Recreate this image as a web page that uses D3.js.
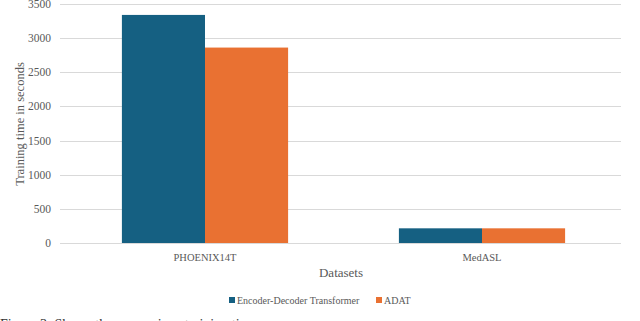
<!DOCTYPE html>
<html>
<head>
<meta charset="utf-8">
<script src="https://cdn.jsdelivr.net/npm/d3@7"></script>
<style>
  body { margin: 0; background: #fff; }
</style>
</head>
<body>
<svg id="chart" width="640" height="321"></svg>
<script>
var datasets = ["PHOENIX14T", "MedASL"];
var seriesNames = ["Encoder-Decoder Transformer", "ADAT"];
var encoderDecoder = [3340, 215];
var adat = [2862, 215];
var yTicks = [0, 500, 1000, 1500, 2000, 2500, 3000, 3500];
var colors = ["#156082", "#E97132"];
var textColor = "#595959";
var FONT = "'Liberation Serif'";

var svg = d3.select("#chart");
var X0 = 66.5, X1 = 620.5, Y0 = 243, Y1 = 4;
var GRID_X0 = 60, GRID_X1 = 621;

var xScale = d3.scaleBand().domain(datasets).range([X0, X1]).paddingInner(0.4).paddingOuter(0.2);
var xSub = d3.scaleBand().domain(seriesNames).range([0, xScale.bandwidth()]);
var yScale = d3.scaleLinear().domain([0, 3500]).range([Y0, Y1]);

function label(sel){
    return sel.attr("font-family", FONT).attr("fill", textColor);
}

// gridlines
svg.append("g").selectAll("line").data(yTicks.slice(1)).enter().append("line")
    .attr("x1", GRID_X0).attr("x2", GRID_X1)
    .attr("y1", function(d){return Math.round(yScale(d)) + 0.5}).attr("y2", function(d){return Math.round(yScale(d)) + 0.5})
    .attr("stroke", "#d9d9d9").attr("stroke-width", 1);

// y tick labels
svg.append("g").selectAll("text").data(yTicks).enter().append("text")
    .call(label)
    .attr("x", 51).attr("y", function(d){return yScale(d)})
    .attr("dy", "0.35em").attr("text-anchor", "end")
    .style("font-size", "11.5px")
    .text(function(d){return d});

// bars
var groups = svg.append("g").selectAll("g").data(datasets).enter().append("g")
    .attr("transform", function(d){return "translate(" + xScale(d) + ",0)"});
groups.selectAll("rect")
    .data(function(d, i){return [{s: seriesNames[0], v: encoderDecoder[i]}, {s: seriesNames[1], v: adat[i]}]})
    .enter().append("rect")
    .attr("x", function(d){return xSub(d.s)})
    .attr("width", xSub.bandwidth())
    .attr("y", function(d){return yScale(d.v)})
    .attr("height", function(d){return Y0 - yScale(d.v)})
    .attr("fill", function(d, i){return colors[i]});

// baseline
svg.append("line").attr("x1", GRID_X0).attr("x2", GRID_X1).attr("y1", Y0 + 0.5).attr("y2", Y0 + 0.5)
    .attr("stroke", "#d9d9d9").attr("stroke-width", 1);

// x tick labels
svg.append("g").selectAll("text").data(datasets).enter().append("text")
    .call(label)
    .attr("x", function(d){return xScale(d) + xScale.bandwidth()/2})
    .attr("y", 261).attr("text-anchor", "middle")
    .style("font-size", "10.5px")
    .text(function(d){return d});

// axis titles
svg.append("text").call(label).attr("x", 341).attr("y", 277).attr("text-anchor", "middle")
    .style("font-size", "13px").text("Datasets");
svg.append("text").call(label).attr("transform", "translate(24,124) rotate(-90)").attr("text-anchor", "middle")
    .style("font-size", "12.5px").text("Training time in seconds");

// legend
var legend = svg.append("g").attr("transform", "translate(229,300)");
var legendX = [0, 147];
seriesNames.forEach(function(name, i){
    var item = legend.append("g").attr("transform", "translate(" + legendX[i] + ",0)");
    item.append("rect").attr("x", 0).attr("y", -3).attr("width", 6).attr("height", 6).attr("fill", colors[i]);
    item.append("text").call(label).attr("x", 8).attr("y", 0).attr("dy", "0.35em")
        .style("font-size", "10px").text(name);
});

// cut-off caption
svg.append("text").attr("font-family", FONT).attr("x", 0).attr("y", 329).attr("fill", "#333").style("font-size", "14px")
    .text("Figure 3: Shows the comparison training time");
</script>
</body>
</html>
